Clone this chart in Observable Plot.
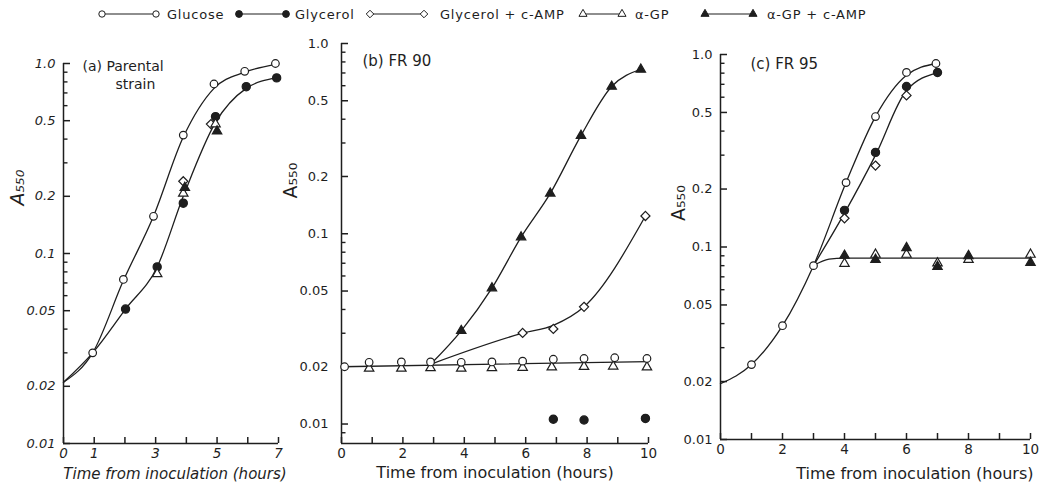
<!DOCTYPE html>
<html><head><meta charset="utf-8">
<script src="https://cdn.jsdelivr.net/npm/d3@7"></script>
<script src="https://cdn.jsdelivr.net/npm/@observablehq/plot@0.6"></script>
<style>
body{margin:0;background:#fff;}
#wrap{position:relative;width:1044px;height:485px;overflow:hidden;background:#fff;}
#wrap > *{position:absolute;top:0;}
</style></head><body><div id="wrap"></div>
<script>
// ---------------- data ----------------
const seriesNames   = ["Glucose", "Glycerol", "Glycerol + c-AMP", "α-GP", "α-GP + c-AMP"];
const seriesSymbols = ["circle", "circle", "diamond2", "triangle", "triangle"];
const seriesFilled  = [false, true, false, false, true];

const yMajorTicks  = [0.01, 0.02, 0.05, 0.1, 0.2, 0.5, 1];
const yMajorLabels = ["0.01", "0.02", "0.05", "0.1", "0.2", "0.5", "1.0"];
const yMinorTicks  = [0.009, 0.03, 0.04, 0.06, 0.07, 0.08, 0.09, 0.3, 0.4, 0.6, 0.7, 0.8, 0.9];
const xTicksA  = [0, 1, 2, 3, 4, 5, 6, 7];
const xLabelsA = [0, 1, 3, 5, 7];
const xTicksBC  = [0, 1, 2, 3, 4, 5, 6, 7, 8, 9, 10];
const xLabelsBC = [0, 2, 4, 6, 8, 10];

// Panel (a) Parental strain  — [hours, A550]
const aGlucose  = [[0.95,0.030],[1.95,0.073],[2.93,0.157],[3.9,0.42],[4.9,0.78],[5.9,0.91],[6.9,1.0]];
const aGlycerol = [[2.02,0.051],[3.05,0.085],[3.9,0.184],[4.95,0.525],[5.95,0.755],[6.94,0.84]];
const aGlyCamp  = [[3.9,0.24],[4.8,0.48]];
const aGP       = [[3.05,0.078],[3.9,0.207],[4.95,0.48]];
const aGPCamp   = [[3.95,0.222],[5.0,0.44]];
const aCurveUpper = [[0,0.021],[0.95,0.030],[1.95,0.072],[2.93,0.157],[3.9,0.41],[4.9,0.74],[5.9,0.90],[6.9,0.99]];
const aCurveLower = [[0,0.021],[0.95,0.030],[2.02,0.051],[3.05,0.085],[3.9,0.20],[4.95,0.49],[5.95,0.74],[6.94,0.84]];

// Panel (b) FR 90
const bGlucose  = [[0.1,0.020],[0.9,0.0211],[1.95,0.0212],[2.9,0.0212],[3.9,0.0211],[4.9,0.0212],[5.9,0.0214],[6.9,0.0219],[7.9,0.0221],[8.9,0.0223],[9.95,0.0221]];
const bGlycerol = [[6.9,0.0106],[7.9,0.0105],[9.9,0.0107]];
const bGlyCamp  = [[5.9,0.0301],[6.9,0.0316],[7.9,0.0413],[9.9,0.124]];
const bGP       = [[0.9,0.0196],[1.95,0.0196],[2.9,0.0197],[3.9,0.0196],[4.9,0.0197],[5.9,0.0198],[6.85,0.0199],[7.9,0.0200],[8.85,0.0201],[9.95,0.0199]];
const bGPCamp   = [[3.9,0.0309],[4.9,0.0518],[5.85,0.096],[6.8,0.163],[7.8,0.328],[8.8,0.594],[9.75,0.73]];
const bCurveBase   = [[0,0.020],[10,0.0213]];
const bCurveGPCamp = [[2.9,0.0206],[3.9,0.0309],[4.9,0.0518],[5.85,0.096],[6.8,0.163],[7.8,0.328],[8.8,0.594],[9.75,0.73]];
const bCurveGlyCamp = [[2.9,0.0206],[5.9,0.030],[6.9,0.033],[7.9,0.0413],[9.9,0.124]];

// Panel (c) FR 95
const cGlucose  = [[1,0.0245],[2,0.039],[3,0.080],[4.05,0.216],[5,0.476],[6,0.807],[6.95,0.898]];
const cGlycerol = [[4,0.155],[5,0.31],[6,0.682],[7,0.806]];
const cGlyCamp  = [[4,0.141],[5,0.265],[6,0.613]];
const cGP       = [[4,0.082],[5,0.0914],[6,0.0914],[7,0.0824],[8,0.086],[10,0.0914]];
const cGPCamp   = [[4,0.0903],[5,0.086],[6,0.099],[7,0.079],[8,0.090],[10,0.083]];
const cCurveGlucose  = [[0,0.0195],[1,0.0245],[2,0.039],[3,0.080],[4.05,0.216],[5,0.476],[6,0.78],[6.95,0.898]];
const cCurveGlycerol = [[3,0.080],[4,0.15],[5,0.30],[6,0.65],[7,0.806]];
const cCurvePlateau  = [[3,0.080],[3.5,0.0865],[4,0.0875],[10,0.0875]];

// ---------------- style ----------------
const INK = "#1e1e1e";
const FONT = "'DejaVu Sans', 'Liberation Sans', sans-serif";
const markerR = [3.8, 4.1, 4.1, 3.5, 3.5];

function dots(data, i) {
  return Plot.dot(data, {
    x: d => d[0], y: d => d[1], symbol: seriesSymbols[i], r: markerR[i],
    fill: seriesFilled[i] ? INK : "white", stroke: INK, strokeWidth: 1.2
  });
}
function curve(data) {
  return Plot.line(data, {x: d => d[0], y: d => d[1], curve: "monotone-x", stroke: INK, strokeWidth: 1.3});
}
function label(str, o) {
  return Plot.text([str], {text: d => d, fill: INK, fontFamily: FONT, ...o});
}

function panel(cfg) {
  const fs = cfg.italic ? "italic" : "normal";
  const inY = v => v >= cfg.yDomain[0] && v <= cfg.yDomain[1];
  const marks = [
    // inward ticks (axis marks with negative tick size)
    Plot.axisY(yMinorTicks.filter(inY), {anchor: "left", tickSize: -4.5, tickFormat: () => "", label: null, stroke: INK, strokeWidth: 1.4}),
    Plot.axisY(yMajorTicks.filter(inY), {anchor: "left", tickSize: -7, tickFormat: () => "", label: null, stroke: INK, strokeWidth: 1.5}),
    Plot.axisX(cfg.xTicks, {anchor: "bottom", tickSize: -6, tickFormat: () => "", label: null, stroke: INK, strokeWidth: 1.5}),
    // tick labels
    Plot.axisY(yMajorTicks.filter(inY),
      {anchor: "left", tickSize: 0, tickPadding: cfg.yPad, label: null, color: INK,
       tickFormat: v => yMajorLabels[yMajorTicks.indexOf(v)], fontSize: 13, fontStyle: fs}),
    Plot.axisX(cfg.xTicks,
      {anchor: "bottom", tickSize: 0, tickPadding: 5, label: null, color: INK,
       tickFormat: v => cfg.xLabels.includes(v) ? String(v) : "", fontSize: 13.5, fontStyle: fs}),
    // axis lines
    Plot.ruleX([cfg.xDomain[0]], {stroke: INK, strokeWidth: 1.5}),
    Plot.ruleY([cfg.yDomain[0]], {stroke: INK, strokeWidth: 1.5}),
    ...cfg.curves.map(curve),
    ...cfg.series.map(([data, i]) => dots(data, i)),
    ...cfg.texts
  ];
  const svg = Plot.plot({
    width: cfg.width, height: 485,
    marginLeft: cfg.ml, marginRight: cfg.mr, marginTop: cfg.mt, marginBottom: cfg.mb,
    style: {fontFamily: FONT, fontSize: "13px", color: INK, background: "transparent"},
    x: {domain: cfg.xDomain},
    y: {type: "log", domain: cfg.yDomain},
    marks
  });
  svg.style.left = cfg.left + "px";
  return svg;
}

const wrap = document.getElementById("wrap");

const xTitle = "Time from inoculation (hours)";
const yTitle = "A₅₅₀";

wrap.appendChild(panel({
  left: 0, width: 290, ml: 63, mr: 12, mt: 63, mb: 42, yPad: 8, italic: true,
  xDomain: [0, 7], yDomain: [0.01, 1], xTicks: xTicksA, xLabels: xLabelsA,
  curves: [aCurveUpper, aCurveLower],
  series: [[aGlucose,0],[aGlycerol,1],[aGlyCamp,2],[aGP,3],[aGPCamp,4]],
  texts: [
    label(xTitle, {frameAnchor: "bottom", dx: 4, dy: 31, fontSize: 15, fontStyle: "italic", lineAnchor: "middle"}),
    label(yTitle, {frameAnchor: "left", rotate: -90, dx: -46, dy: -48, fontSize: 19, fontStyle: "italic", lineAnchor: "middle"}),
    label("(a) Parental", {frameAnchor: "top-left", textAnchor: "start", lineAnchor: "middle", dx: 19, dy: 3, fontSize: 14}),
    label("strain", {frameAnchor: "top-left", textAnchor: "start", lineAnchor: "middle", dx: 52, dy: 21, fontSize: 14})
  ]
}));

wrap.appendChild(panel({
  left: 270, width: 400, ml: 71, mr: 22, mt: 43, mb: 42, yPad: 13, italic: false,
  xDomain: [0, 10], yDomain: [0.0079, 1], xTicks: xTicksBC, xLabels: xLabelsBC,
  curves: [bCurveBase, bCurveGPCamp, bCurveGlyCamp],
  series: [[bGP,3],[bGlucose,0],[bGlycerol,1],[bGlyCamp,2],[bGPCamp,4]],
  texts: [
    label(xTitle, {frameAnchor: "bottom", dx: 0, dy: 29, fontSize: 16, lineAnchor: "middle"}),
    label(yTitle, {frameAnchor: "left", rotate: -90, dx: -51, dy: -45, fontSize: 19, lineAnchor: "middle"}),
    label("(b) FR 90", {frameAnchor: "top-left", textAnchor: "start", lineAnchor: "middle", dx: 21, dy: 18, fontSize: 15})
  ]
}));

wrap.appendChild(panel({
  left: 665, width: 379, ml: 55, mr: 14, mt: 54, mb: 46, yPad: 8, italic: false,
  xDomain: [0, 10], yDomain: [0.01, 1], xTicks: xTicksBC, xLabels: xLabelsBC,
  curves: [cCurveGlucose, cCurveGlycerol, cCurvePlateau],
  series: [[cGlucose,0],[cGlycerol,1],[cGlyCamp,2],[cGP,3],[cGPCamp,4]],
  texts: [
    label(xTitle, {frameAnchor: "bottom-right", textAnchor: "end", dx: 3, dy: 34, fontSize: 16, lineAnchor: "middle"}),
    label(yTitle, {frameAnchor: "left", rotate: -90, dx: -42, dy: -26, fontSize: 19, lineAnchor: "middle"}),
    label("(c) FR 95", {frameAnchor: "top-left", textAnchor: "start", lineAnchor: "middle", dx: 30, dy: 10, fontSize: 15})
  ]
}));

// ---------------- legend ----------------
const legendLayout = [
  {x1: 102, x2: 156, tx: 167}, {x1: 239, x2: 286, tx: 295}, {x1: 370, x2: 424, tx: 440},
  {x1: 583, x2: 622, tx: 635}, {x1: 705, x2: 753, tx: 767}
];
const symbolMap = {circle: d3.symbolCircle, diamond2: d3.symbolDiamond2, triangle: d3.symbolTriangle};
const legendR = [3.2, 3.4, 3.4, 3.0, 3.0];
const leg = d3.select(wrap).append("svg").attr("width", 1044).attr("height", 30).style("left", "0px");
seriesNames.forEach((name, i) => {
  const L = legendLayout[i], y = 14;
  const g = leg.append("g");
  g.append("line").attr("x1", L.x1).attr("x2", L.x2).attr("y1", y).attr("y2", y).attr("stroke", INK).attr("stroke-width", 1.1);
  [L.x1, L.x2].forEach(x => {
    g.append("path")
      .attr("d", d3.symbol().type(symbolMap[seriesSymbols[i]]).size(Math.PI * legendR[i] * legendR[i])())
      .attr("transform", `translate(${x},${y})`)
      .attr("fill", seriesFilled[i] ? INK : "white").attr("stroke", INK).attr("stroke-width", 1);
  });
  g.append("text").attr("x", L.tx).attr("y", y).attr("dy", "0.35em")
    .attr("font-family", FONT).attr("font-size", 13).attr("letter-spacing", "0.8px")
    .attr("fill", INK).text(name);
});
</script></body></html>
